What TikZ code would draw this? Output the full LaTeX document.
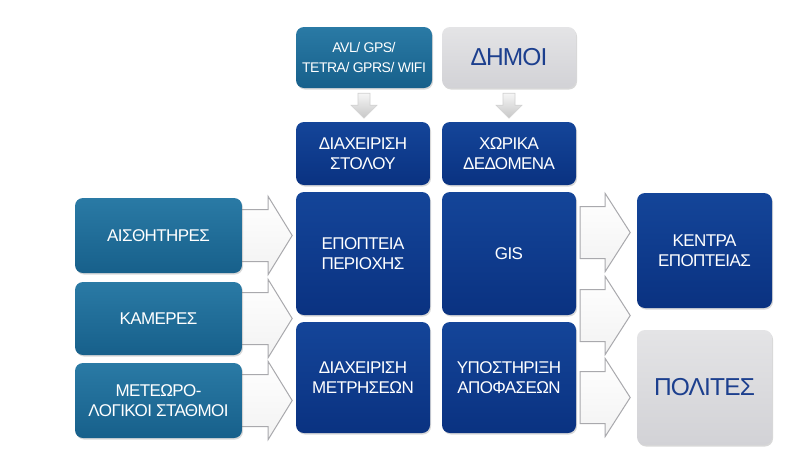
\documentclass[tikz,border=0pt]{standalone}
\usepackage{fontspec}
\setmainfont{Liberation Sans}[LetterSpace=-3.5]
\usetikzlibrary{calc,shadows}
\pgfdeclarelayer{background}
\pgfdeclarelayer{paper}
\pgfsetlayers{paper,background,main}
\definecolor{tealtop}{HTML}{2A7AA5}
\definecolor{tealbot}{HTML}{17608B}
\definecolor{bluetop}{HTML}{144599}
\definecolor{bluebot}{HTML}{0A3281}
\definecolor{graytop}{HTML}{E4E4E6}
\definecolor{graybot}{HTML}{D2D2D6}
\definecolor{graytext}{HTML}{1C3F8E}
\definecolor{arrowline}{HTML}{A9A9AD}
\tikzset{
  box/.style={rounded corners=8pt, align=center, inner sep=0pt,
    drop shadow={opacity=0.3, shadow xshift=1pt, shadow yshift=-1.5pt},
    font=\fontsize{17}{20}\selectfont},
  tealbox/.style={box, top color=tealtop, bottom color=tealbot, text=white},
  bluebox/.style={box, top color=bluetop, bottom color=bluebot, text=white},
  graybox/.style={box, top color=graytop, bottom color=graybot, text=graytext,
    font=\fontsize{24.5}{28}\selectfont},
  barrow/.style={top color=white, bottom color=black!5, draw=arrowline, line width=1pt, line join=miter},
  darrow/.style={top color=white, bottom color=black!22, draw=black!18, line width=0.6pt}
}
\begin{document}
\begin{tikzpicture}[x=1pt,y=-1pt]
\useasboundingbox (0,0) rectangle (808,461);
\begin{pgfonlayer}{paper}
\fill[white] (0,0) rectangle (808,461);
\end{pgfonlayer}
% top row
\node[tealbox, minimum width=136pt, minimum height=61pt, font=\fontsize{14}{20}\selectfont] (avl) at (364,57.5) {AVL/ GPS/\\TETRA/ GPRS/ WIFI};
\node[graybox, minimum width=134pt, minimum height=61pt] (dimoi) at (509,57.5) {ΔΗΜΟΙ};
\node[bluebox, minimum width=134pt, minimum height=63pt] (stolos) at (363,153.5) {ΔΙΑΧΕΙΡΙΣΗ\\ΣΤΟΛΟΥ};
\node[bluebox, minimum width=134pt, minimum height=63pt] (xorika) at (509,153.5) {ΧΩΡΙΚΑ\\ΔΕΔΟΜΕΝΑ};
% left column
\node[tealbox, minimum width=167pt, minimum height=75pt] (aisth) at (158.5,235.5) {ΑΙΣΘΗΤΗΡΕΣ};
\node[tealbox, minimum width=167pt, minimum height=73pt] (kameres) at (158.5,318.5) {ΚΑΜΕΡΕΣ};
\node[tealbox, minimum width=167pt, minimum height=75pt] (meteo) at (158.5,400.5) {ΜΕΤΕΩΡΟ-\\ΛΟΓΙΚΟΙ ΣΤΑΘΜΟΙ};
% centre grid
\node[bluebox, minimum width=134pt, minimum height=123pt] (epopt) at (363,253.5) {ΕΠΟΠΤΕΙΑ\\ΠΕΡΙΟΧΗΣ};
\node[bluebox, minimum width=134pt, minimum height=123pt] (gis) at (509,253.5) {GIS};
\node[bluebox, minimum width=134pt, minimum height=111pt] (diax) at (363,377.5) {ΔΙΑΧΕΙΡΙΣΗ\\ΜΕΤΡΗΣΕΩΝ};
\node[bluebox, minimum width=134pt, minimum height=111pt] (ypost) at (509,377.5) {ΥΠΟΣΤΗΡΙΞΗ\\ΑΠΟΦΑΣΕΩΝ};
% right column
\node[bluebox, minimum width=135pt, minimum height=115pt] (kentra) at (704.5,250.5) {ΚΕΝΤΡΑ\\ΕΠΟΠΤΕΙΑΣ};
\node[graybox, minimum width=135pt, minimum height=115pt] (polites) at (704.5,387.5) {ΠΟΛΙΤΕΣ};
% arrows
\begin{pgfonlayer}{background}
  \foreach \src in {aisth,kameres,meteo}{
    \draw[barrow] (\src.east) ++(-12,-26) -- ++(38,0) -- ++(0,-13) -- ++(24,39)
      -- ++(-24,39) -- ++(0,-13) -- ++(-38,0) -- cycle;
    \draw[barrow] (gis.east |- \src.east) ++(4,-29) -- ++(25,0) -- ++(0,-13) -- ++(25,39)
      -- ++(-25,39) -- ++(0,-13) -- ++(-25,0) -- cycle;
  }
\end{pgfonlayer}
\foreach \src in {avl,dimoi}{
  \draw[darrow] (\src.south) ++(-6,5) -- ++(12,0) -- ++(0,12) -- ++(7,0) -- ++(-13,13)
    -- ++(-13,-13) -- ++(7,0) -- cycle;
}
\end{tikzpicture}
\end{document}
